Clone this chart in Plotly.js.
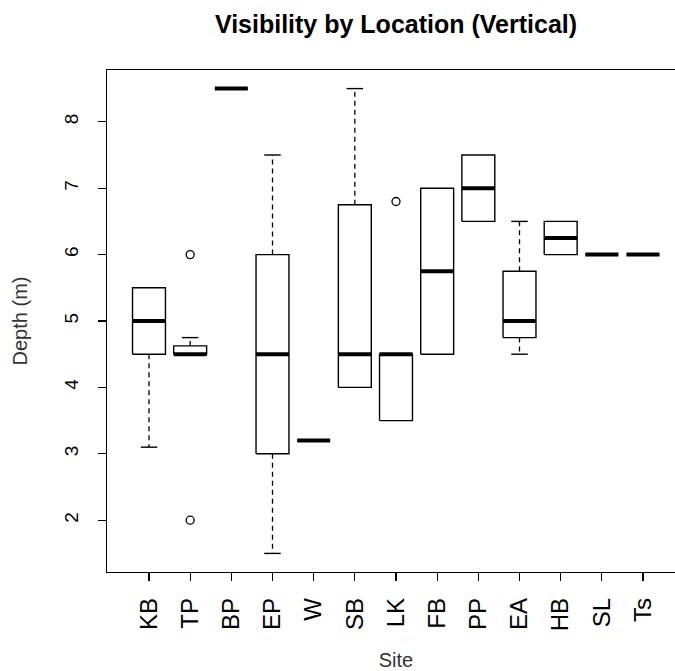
<!DOCTYPE html>
<html>
<head>
<meta charset="utf-8">
<script src="https://cdn.plot.ly/plotly-3.0.1.min.js"></script>
<style>html,body{margin:0;padding:0;background:#fff;overflow:hidden;}#chart{width:700px;height:671px;}</style>
</head>
<body>
<div id="chart"></div>
<script>
// ---- data ----
const sites = ['KB','TP','BP','EP','W','SB','LK','FB','PP','EA','HB','SL','Ts'];
const lowerWhisker = [3.1, 4.5, 8.5, 1.5, 3.2, 4.0, 3.5, 4.5, 6.5, 4.5, 6.0, 6.0, 6.0];
const q1 =           [4.5, 4.5, 8.5, 3.0, 3.2, 4.0, 3.5, 4.5, 6.5, 4.75, 6.0, 6.0, 6.0];
const medians =      [5.0, 4.5, 8.5, 4.5, 3.2, 4.5, 4.5, 5.75, 7.0, 5.0, 6.25, 6.0, 6.0];
const q3 =           [5.5, 4.625, 8.5, 6.0, 3.2, 6.75, 4.5, 7.0, 7.5, 5.75, 6.5, 6.0, 6.0];
const upperWhisker = [5.5, 4.75, 8.5, 7.5, 3.2, 8.5, 4.5, 7.0, 7.5, 6.5, 6.5, 6.0, 6.0];
const outlierSites = ['TP', 'TP', 'LK'];
const outlierValues = [6.0, 2.0, 6.8];
const yTicks = [2, 3, 4, 5, 6, 7, 8];

// ---- geometry helpers (style constants, not data) ----
const halfBox = 0.4;     // boxwex 0.8
const halfStaple = 0.2;  // staplewex 0.5
const pos = sites.map((s, i) => i + 1);

const boxX = [], boxY = [], medX = [], medY = [], whiskX = [], whiskY = [], stapX = [], stapY = [];
sites.forEach((s, i) => {
  const c = pos[i];
  boxX.push(c - halfBox, c + halfBox, c + halfBox, c - halfBox, c - halfBox, null);
  boxY.push(q1[i], q1[i], q3[i], q3[i], q1[i], null);
  medX.push(c - halfBox, c + halfBox, null);
  medY.push(medians[i], medians[i], null);
  if (upperWhisker[i] > q3[i]) {
    whiskX.push(c, c, null); whiskY.push(q3[i], upperWhisker[i], null);
    stapX.push(c - halfStaple, c + halfStaple, null); stapY.push(upperWhisker[i], upperWhisker[i], null);
  }
  if (lowerWhisker[i] < q1[i]) {
    whiskX.push(c, c, null); whiskY.push(q1[i], lowerWhisker[i], null);
    stapX.push(c - halfStaple, c + halfStaple, null); stapY.push(lowerWhisker[i], lowerWhisker[i], null);
  }
});
const outX = outlierSites.map(s => sites.indexOf(s) + 1);

const traces = [
  {x: whiskX, y: whiskY, mode: 'lines', line: {color: '#000', width: 1.3, dash: '5px,4px'}, hoverinfo: 'skip'},
  {x: stapX, y: stapY, mode: 'lines', line: {color: '#000', width: 1.4}, hoverinfo: 'skip'},
  {x: boxX, y: boxY, mode: 'lines', line: {color: '#000', width: 1.4}, hoverinfo: 'skip'},
  {x: medX, y: medY, mode: 'lines', line: {color: '#000', width: 4}, hoverinfo: 'skip'},
  {x: outX, y: outlierValues, mode: 'markers',
   marker: {symbol: 'circle-open', size: 8, color: '#000', line: {width: 1.3}}, hoverinfo: 'skip'}
];

const layout = {
  width: 700, height: 671,
  paper_bgcolor: '#fff', plot_bgcolor: '#fff',
  showlegend: false,
  margin: {l: 107, r: 15, t: 70, b: 99},
  font: {family: 'Liberation Sans, Arial, sans-serif', color: '#000'},
  title: {text: '<b>Visibility by Location (Vertical)</b>', font: {size: 25, color: '#000'},
          x: 0.5, xanchor: 'center', xref: 'paper', y: 1 - 24/671, yanchor: 'middle', yref: 'container'},
  xaxis: {
    range: [-0.02, 14.02], tickvals: pos, ticktext: sites, tickangle: -90,
    ticks: 'outside', ticklen: 8, tickcolor: '#000', tickwidth: 1.3,
    showline: true, mirror: true, linecolor: '#000', linewidth: 1.4,
    showgrid: false, zeroline: false,
    tickfont: {size: 24, color: '#000'}, ticklabelstandoff: 7,
    title: {text: 'Site', font: {size: 20, color: '#333'}, standoff: 25},
    automargin: false
  },
  yaxis: {
    range: [1.22, 8.78], tickvals: yTicks, tickangle: -90,
    ticks: 'outside', ticklen: 8, tickcolor: '#000', tickwidth: 1.3,
    showline: true, mirror: true, linecolor: '#000', linewidth: 1.4,
    showgrid: false, zeroline: false,
    tickfont: {size: 19, color: '#000'}, ticklabelstandoff: 12,
    title: {text: 'Depth (m)', font: {size: 20, color: '#333'}, standoff: 28},
    automargin: false
  }
};

Plotly.newPlot('chart', traces, layout, {displayModeBar: false, staticPlot: true});
</script>
</body>
</html>
